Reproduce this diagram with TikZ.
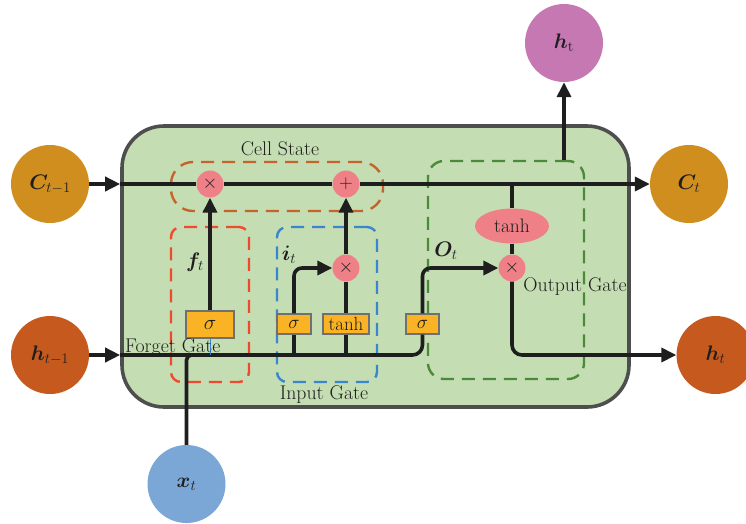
\RequirePackage{fix-cm}
\documentclass[tikz,border=0pt]{standalone}
\usepackage{amsmath,bm}
\usetikzlibrary{arrows.meta,shapes.geometric}
\definecolor{cgold}{HTML}{D08E1F}
\definecolor{horange}{HTML}{C65A1E}
\definecolor{hpink}{HTML}{C678B2}
\definecolor{xblue}{HTML}{7BA7D7}
\definecolor{cellgreen}{HTML}{C4DDB2}
\definecolor{cellborder}{HTML}{4E4E4E}
\definecolor{oppink}{HTML}{EF8087}
\definecolor{sigfill}{HTML}{F9B324}
\definecolor{sigborder}{HTML}{707070}
\definecolor{cscol}{HTML}{C8622B}
\definecolor{fgcol}{HTML}{F04A2E}
\definecolor{igcol}{HTML}{3A86CE}
\definecolor{ogcol}{HTML}{4A8A3A}
\definecolor{ink}{HTML}{1E1E1E}
\tikzset{
  circ/.style={circle, minimum size=78pt, inner sep=0pt, draw=none, text=ink, font=\fontsize{21}{24}\selectfont},
  op/.style={circle, fill=oppink, minimum size=27pt, inner sep=0pt, text=ink, font=\fontsize{19}{21}\selectfont},
  sigbox/.style={rectangle, fill=sigfill, draw=sigborder, line width=1.2pt, inner sep=0pt, text=ink, font=\fontsize{19}{21}\selectfont},
  dbox/.style={rectangle, line width=2.4pt, dash pattern=on 13pt off 8pt, inner sep=0pt},
  flow/.style={line width=3.6pt, draw=ink},
  arr/.style={flow, -{Triangle[length=15pt,width=14pt]}},
  lbl/.style={font=\fontsize{19.8}{22}\selectfont, text=ink, inner sep=0pt},
  math/.style={font=\fontsize{21}{24}\selectfont, text=ink, inner sep=0pt}
}
\begin{document}
\begin{tikzpicture}[x=1pt,y=-1pt]
\useasboundingbox (0,0) rectangle (746,523);

% main cell
\node[rectangle, rounded corners=42pt, fill=cellgreen, draw=cellborder, line width=3.6pt,
      minimum width=507pt, minimum height=281pt, inner sep=0pt] (cell) at (375.5,266.5) {};

% dashed gate boxes
\node[dbox, draw=cscol, rounded corners=22pt, minimum width=212pt, minimum height=49pt] (csbox) at (277,186.5) {};
\node[dbox, draw=fgcol, rounded corners=10pt, minimum width=78pt, minimum height=155pt] (fgbox) at (210,304.5) {};
\node[dbox, draw=igcol, rounded corners=10pt, minimum width=100pt, minimum height=155pt] (igbox) at (327,304.5) {};
\node[dbox, draw=ogcol, rounded corners=16pt, minimum width=156pt, minimum height=218pt] (ogbox) at (506,270) {};

% outer circles
\node[circ, fill=cgold] (cprev) at (50,184) {$\bm{C}_{t-1}$};
\node[circ, fill=horange] (hprev) at (50,355) {$\bm{h}_{t-1}$};
\node[circ, fill=cgold] (cnext) at (689,184) {$\bm{C}_{t}$};
\node[circ, fill=horange] (hnext) at (715.5,355) {$\bm{h}_{t}$};
\node[circ, fill=hpink] (htop) at (564,43) {$\bm{h}_{\mathrm{t}}$};
\node[circ, fill=xblue] (xt) at (186.5,484) {$\bm{x}_{t}$};

% operators
\node[op] (mulf) at (210,184) {$\times$};
\node[op] (addi) at (346,184) {$+$};
\node[op] (muli) at (346,268) {$\times$};
\node[op] (mulo) at (512,268) {$\times$};
\node[ellipse, fill=oppink, minimum width=74pt, minimum height=35pt, inner sep=0pt,
      text=ink, font=\fontsize{19.5}{21}\selectfont] (tanho) at (512,226) {tanh};

% sigma / tanh boxes
\node[sigbox, minimum width=48pt, minimum height=27pt, font=\fontsize{21}{23}\selectfont] (sigf) at (210,324.5) {$\sigma$};
\node[sigbox, minimum width=34pt, minimum height=20pt] (sigi) at (294,324) {$\sigma$};
\node[sigbox, minimum width=46pt, minimum height=20pt] (tanhi) at (346,324) {tanh};
\node[sigbox, minimum width=33pt, minimum height=20pt] (sigo) at (422.5,324) {$\sigma$};

% junction coordinates
\coordinate (cin) at (cell.west |- cprev);
\coordinate (hin) at (cell.west |- hprev);
\coordinate (jt) at (tanho |- cprev);
\coordinate (jh) at (htop |- ogbox.north);

% cell state line
\draw[arr] (cprev.east) -- (cin);
\draw[flow] (cin) -- (mulf.west);
\draw[flow] (mulf.east) -- (addi.west);
\draw[arr] (addi.east) -- (cnext.west);

% hidden input line
\draw[arr] (hprev.east) -- (hin);
\draw[flow, rounded corners=10pt] (hin) -- (sigo |- hin) -- (sigo.south);
\draw[flow, rounded corners=5pt] (xt.north) -- (xt |- hin) -- ++(8,0);
\draw[igcol, line width=0.8pt] (sigf.south) -- (sigf |- hin);

% forget gate
\draw[arr] (sigf.north) -- (mulf.south);

% input gate
\draw[flow] (sigi.south) -- (sigi |- hin);
\draw[flow] (tanhi.south) -- (tanhi |- hin);
\draw[arr, rounded corners=8pt] (sigi.north) -- (sigi |- muli) -- (muli.west);
\draw[flow] (tanhi.north) -- (muli.south);
\draw[arr] (muli.north) -- (addi.south);

% output gate
\draw[arr, rounded corners=8pt] (sigo.north) -- (sigo |- mulo) -- (mulo.west);
\draw[flow] (jt) -- (tanho.north);
\draw[flow] (tanho.south) -- (mulo.north);
\draw[arr, rounded corners=10pt] (mulo.south) -- (mulo |- hnext) -- (hnext.west);
\draw[arr] (jh) -- (htop.south);

% labels
\node[lbl] (lcs) at (280,149) {Cell State};
\node[lbl, anchor=west] (lfg) at (125,348) {Forget Gate};
\node[lbl] (lig) at (324,395) {Input Gate};
\node[lbl] (log) at (575,287) {Output Gate};
\node[math] (lft) at (195,262) {$\bm{f}_{t}$};
\node[math] (lit) at (289,255) {$\bm{i}_{t}$};
\node[math] (lot) at (446,251) {$\bm{O}_{t}$};
\end{tikzpicture}
\end{document}
